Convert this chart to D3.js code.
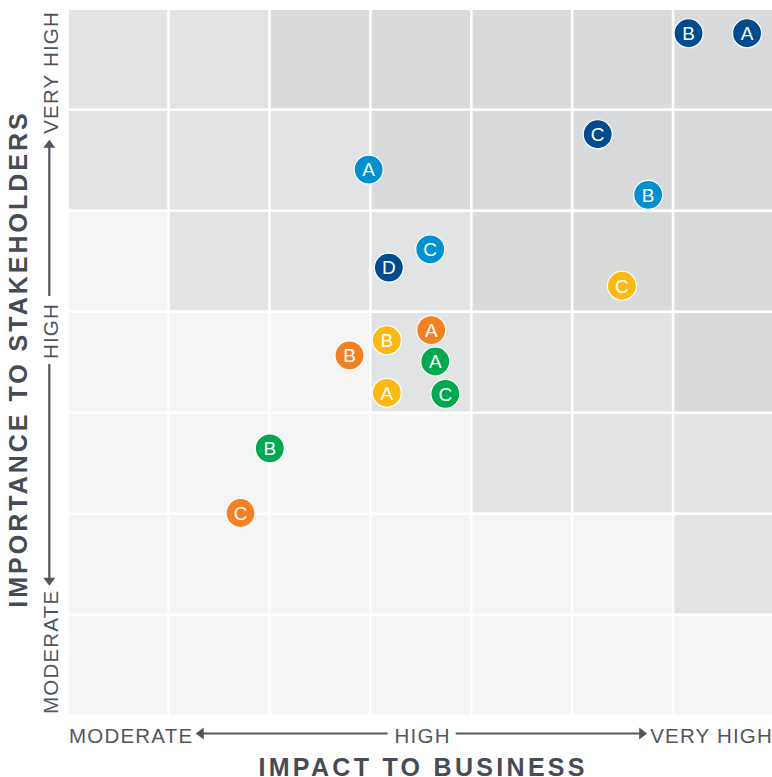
<!DOCTYPE html>
<html>
<head>
<meta charset="utf-8">
<script src="https://cdn.jsdelivr.net/npm/d3@7"></script>
<style>
  html, body { margin: 0; padding: 0; background: #ffffff; }
  svg { display: block; }
</style>
</head>
<body>
<svg id="chart" width="772" height="777"></svg>
<script>
// ---------------- DATA ----------------
const levelLabels = ["MODERATE", "HIGH", "VERY HIGH"];
const xTitle = "IMPACT TO BUSINESS";
const yTitle = "IMPORTANCE TO STAKEHOLDERS";

// heat-map shading per cell, rows listed from top to bottom (0 = light, 1 = medium, 2 = dark)
const cellShades = [
  [1, 1, 2, 2, 2, 2, 2],
  [1, 1, 1, 2, 2, 2, 2],
  [0, 1, 1, 1, 2, 2, 2],
  [0, 0, 0, 1, 1, 1, 2],
  [0, 0, 0, 0, 1, 1, 1],
  [0, 0, 0, 0, 0, 0, 1],
  [0, 0, 0, 0, 0, 0, 0]
];

// series (one colour each): labels, impact (x) and importance (y) in grid units 0–7
const navyLabels   = ["A", "B", "C", "D"];
const navyX        = [6.72, 6.14, 5.24, 3.17];
const navyY        = [6.77, 6.77, 5.77, 4.45];

const blueLabels   = ["A", "B", "C"];
const blueX        = [2.97, 5.74, 3.58];
const blueY        = [5.42, 5.17, 4.63];

const orangeLabels = ["A", "B", "C"];
const orangeX      = [3.59, 2.78, 1.70];
const orangeY      = [3.83, 3.58, 2.02];

const yellowLabels = ["A", "B", "C"];
const yellowX      = [3.15, 3.15, 5.48];
const yellowY      = [3.21, 3.73, 4.27];

const greenLabels  = ["A", "B", "C"];
const greenX       = [3.63, 1.99, 3.73];
const greenY       = [3.52, 2.66, 3.20];

// ---------------- STYLE ----------------
const shadeColors = ["#f5f5f5", "#e2e3e5", "#d9dadc"];
const seriesDefs = [
  { color: "#004a8e", labels: navyLabels,   xs: navyX,   ys: navyY },
  { color: "#0090d0", labels: blueLabels,   xs: blueX,   ys: blueY },
  { color: "#f48024", labels: orangeLabels, xs: orangeX, ys: orangeY },
  { color: "#fdb913", labels: yellowLabels, xs: yellowX, ys: yellowY },
  { color: "#00a84f", labels: greenLabels,  xs: greenX,  ys: greenY }
];
const textColor = "#51565e";
const font = "'Liberation Sans', Arial, Helvetica, sans-serif";

const svg = d3.select("#chart");
const x = d3.scaleLinear().domain([0, 7]).range([69, 775.3]);
const y = d3.scaleLinear().domain([0, 7]).range([717, 10]);
const gapX = 2.6, gapY = 2.7;

// ---------------- CELLS ----------------
const cells = [];
cellShades.forEach((row, r) => row.forEach((s, c) => cells.push({ r, c, s })));
svg.append("g").selectAll("rect").data(cells).join("rect")
  .attr("x", d => x(d.c))
  .attr("y", d => y(7 - d.r))
  .attr("width", d => x(d.c + 1) - x(d.c) - gapX)
  .attr("height", d => y(6 - d.r) - y(7 - d.r) - gapY)
  .attr("fill", d => shadeColors[d.s]);

// ---------------- POINTS ----------------
const points = [];
seriesDefs.forEach(s => s.labels.forEach((l, i) => points.push({ label: l, vx: s.xs[i], vy: s.ys[i], color: s.color })));
const pg = svg.append("g").selectAll("g").data(points).join("g")
  .attr("transform", d => `translate(${x(d.vx)},${y(d.vy)})`);
pg.append("circle").attr("r", 14.5).attr("fill", d => d.color)
  .attr("stroke", "#ffffff").attr("stroke-width", 1.2);
pg.append("text").text(d => d.label)
  .attr("text-anchor", "middle").attr("y", 6.8)
  .attr("fill", "#ffffff").attr("font-family", font).attr("font-size", 19);

// ---------------- AXIS LABELS ----------------
const lblSize = 20.5, lblSpacing = 1.2;
function arrowHead(g, tipX, tipY, dir) {
  const L = 8, W = 6;
  let p;
  if (dir === "left")  p = [[tipX, tipY], [tipX + L, tipY - W], [tipX + L, tipY + W]];
  if (dir === "right") p = [[tipX, tipY], [tipX - L, tipY - W], [tipX - L, tipY + W]];
  if (dir === "up")    p = [[tipX, tipY], [tipX - W, tipY + L], [tipX + W, tipY + L]];
  if (dir === "down")  p = [[tipX, tipY], [tipX - W, tipY - L], [tipX + W, tipY - L]];
  g.append("path").attr("d", "M" + p.map(q => q.join(",")).join("L") + "Z").attr("fill", textColor);
}

// Bottom axis
const bx = svg.append("g");
const baseB = 742.5, arrowB = 733.5;
const tModB = bx.append("text").text(levelLabels[0]).attr("x", 69).attr("y", baseB);
const tHighB = bx.append("text").text(levelLabels[1]).attr("x", x(3.5) + 0.5).attr("y", baseB).attr("text-anchor", "middle");
const tVHB = bx.append("text").text(levelLabels[2]).attr("x", 773).attr("y", baseB).attr("text-anchor", "end");
bx.selectAll("text").attr("font-family", font).attr("font-size", lblSize)
  .attr("letter-spacing", lblSpacing).attr("fill", textColor);
{
  const m = tModB.node().getBBox(), h = tHighB.node().getBBox(), v = tVHB.node().getBBox();
  const leftTip = m.x + m.width + 2.5;
  const rightTip = v.x - 3;
  arrowHead(bx, leftTip, arrowB, "left");
  arrowHead(bx, rightTip, arrowB, "right");
  bx.append("line").attr("x1", leftTip + 6).attr("x2", h.x - 7).attr("y1", arrowB).attr("y2", arrowB)
    .attr("stroke", textColor).attr("stroke-width", 2.2);
  bx.append("line").attr("x1", h.x + h.width + 5).attr("x2", rightTip - 6).attr("y1", arrowB).attr("y2", arrowB)
    .attr("stroke", textColor).attr("stroke-width", 2.2);
}

// Left axis (rotated)
const lx = svg.append("g");
const baseL = 58.3, arrowL = 49.3, highCenterL = 331;
function vText(str, py, anchor) {
  return lx.append("text").text(str)
    .attr("transform", `translate(${baseL},${py}) rotate(-90)`)
    .attr("text-anchor", anchor)
    .attr("font-family", font).attr("font-size", lblSize)
    .attr("letter-spacing", lblSpacing).attr("fill", textColor);
}
const tModL = vText(levelLabels[0], 714, "start");
const tHighL = vText(levelLabels[1], highCenterL, "middle");
const tVHL = vText(levelLabels[2], 11, "end");
{
  const lenMod = tModL.node().getComputedTextLength();
  const lenHigh = tHighL.node().getComputedTextLength();
  const lenVH = tVHL.node().getComputedTextLength();
  const modTop = 714 - lenMod;
  const highBottom = highCenterL + lenHigh / 2;
  const highTop = highCenterL - lenHigh / 2;
  const vhBottom = 11 + lenVH;
  const downTip = modTop - 4;
  const upTip = vhBottom + 6;
  arrowHead(lx, arrowL, downTip, "down");
  arrowHead(lx, arrowL, upTip, "up");
  lx.append("line").attr("x1", arrowL).attr("x2", arrowL).attr("y1", highBottom + 5).attr("y2", downTip - 6)
    .attr("stroke", textColor).attr("stroke-width", 2.2);
  lx.append("line").attr("x1", arrowL).attr("x2", arrowL).attr("y1", upTip + 6).attr("y2", highTop - 7)
    .attr("stroke", textColor).attr("stroke-width", 2.2);
}

// Titles
svg.append("text").text(xTitle)
  .attr("x", x(3.5) + 1).attr("y", 775.5).attr("text-anchor", "middle")
  .attr("font-family", font).attr("font-weight", "bold").attr("font-size", 25)
  .attr("letter-spacing", 3.3).attr("fill", "#474c54");
svg.append("text").text(yTitle)
  .attr("transform", `translate(26.7,${359}) rotate(-90)`).attr("text-anchor", "middle")
  .attr("font-family", font).attr("font-weight", "bold").attr("font-size", 25)
  .attr("letter-spacing", 3).attr("fill", "#474c54");
</script>
</body>
</html>
